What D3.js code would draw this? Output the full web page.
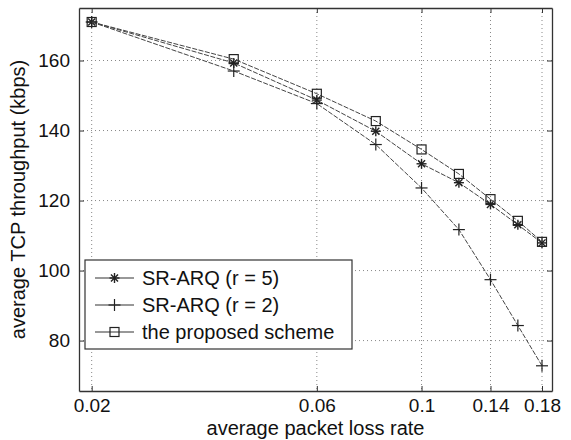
<!DOCTYPE html>
<html>
<head>
<meta charset="utf-8">
<script src="https://cdn.jsdelivr.net/npm/d3@7"></script>
<style>
  body { margin: 0; background: #fff; }
  text { font-family: "Liberation Sans", Arial, sans-serif; fill: #111; }
</style>
</head>
<body>
<script>
// data
var lossRate = [0.02, 0.04, 0.06, 0.08, 0.1, 0.12, 0.14, 0.16, 0.18];
var srArqR5 = [171, 159.3, 148.7, 139.8, 130.5, 125.1, 118.9, 113.1, 107.9];
var srArqR2 = [171, 157, 147.7, 136, 123.6, 111.7, 97.4, 84.3, 72.8];
var proposed = [171, 160.4, 150.5, 142.7, 134.6, 127.6, 120.4, 114.2, 108.2];
var xTicks = [0.02, 0.06, 0.1, 0.14, 0.18];
var yTicks = [80, 100, 120, 140, 160];
var seriesNames = ['SR-ARQ (r = 5)', 'SR-ARQ (r = 2)', 'the proposed scheme'];

var W = 571, H = 440;
var pLeft = 79, pTop = 8, pRight = 552, pBottom = 391;

var svg = d3.select('body').append('svg')
            .attr('width', W)
            .attr('height', H);

var x = d3.scaleLog().domain([0.0188, 0.189]).range([pLeft, pRight]);
var y = d3.scaleLinear().domain([65.6, 175]).range([pBottom, pTop]);

// grid
svg.selectAll('.gx').data(xTicks).enter().append('line')
   .attr('x1', d => x(d)).attr('x2', d => x(d))
   .attr('y1', pTop).attr('y2', pBottom)
   .style('stroke', '#888').style('stroke-width', 1)
   .style('stroke-dasharray', '1,3');
svg.selectAll('.gy').data(yTicks).enter().append('line')
   .attr('x1', pLeft).attr('x2', pRight)
   .attr('y1', d => y(d)).attr('y2', d => y(d))
   .style('stroke', '#888').style('stroke-width', 1)
   .style('stroke-dasharray', '1,3');

// axes, ticks inward like matlab
var fmt = d => String(d);
svg.append('g').attr('transform', 'translate(0,' + pBottom + ')')
   .call(d3.axisBottom(x).tickValues(xTicks).tickFormat(fmt).tickSizeInner(-5).tickSizeOuter(0).tickPadding(8));
svg.append('g').attr('transform', 'translate(0,' + pTop + ')')
   .call(d3.axisTop(x).tickValues(xTicks).tickFormat('').tickSizeInner(-5).tickSizeOuter(0));
svg.append('g').attr('transform', 'translate(' + pLeft + ',0)')
   .call(d3.axisLeft(y).tickValues(yTicks).tickFormat(fmt).tickSizeInner(-5).tickSizeOuter(0).tickPadding(9));
svg.append('g').attr('transform', 'translate(' + pRight + ',0)')
   .call(d3.axisRight(y).tickValues(yTicks).tickFormat('').tickSizeInner(-5).tickSizeOuter(0));

svg.selectAll('.domain').style('stroke', '#333').style('stroke-width', 1.3);
svg.selectAll('.tick line').style('stroke', '#333');
svg.selectAll('.tick text').style('font-size', '19px').style('fill', '#111')
   .style('font-family', '"Liberation Sans", Arial, sans-serif');

// axis titles
svg.append('text')
   .attr('x', (pLeft + pRight) / 2).attr('y', 435)
   .attr('text-anchor', 'middle')
   .style('font-size', '20px')
   .text('average packet loss rate');
svg.append('text')
   .attr('transform', 'translate(25,' + ((pTop + pBottom) / 2) + ') rotate(-90)')
   .attr('text-anchor', 'middle')
   .style('font-size', '20px')
   .text('average TCP throughput (kbps)');

// markers
function drawMarker(g, kind, cx, cy) {
  if (kind === 'star') {
    var r = 5;
    [0, 45, 90, 135].forEach(function(a) {
      var rad = a * Math.PI / 180;
      g.append('line')
       .attr('x1', cx - r * Math.cos(rad)).attr('y1', cy - r * Math.sin(rad))
       .attr('x2', cx + r * Math.cos(rad)).attr('y2', cy + r * Math.sin(rad))
       .style('stroke', '#222').style('stroke-width', 1.4);
    });
  } else if (kind === 'plus') {
    var p = 6;
    g.append('line').attr('x1', cx - p).attr('x2', cx + p).attr('y1', cy).attr('y2', cy)
     .style('stroke', '#222').style('stroke-width', 1.2);
    g.append('line').attr('x1', cx).attr('x2', cx).attr('y1', cy - p).attr('y2', cy + p)
     .style('stroke', '#222').style('stroke-width', 1.2);
  } else {
    g.append('rect').attr('x', cx - 4.5).attr('y', cy - 4.5)
     .attr('width', 9).attr('height', 9)
     .style('fill', 'none').style('stroke', '#222').style('stroke-width', 1.2);
  }
}

var series = [
  { name: seriesNames[0], values: srArqR5, marker: 'star' },
  { name: seriesNames[1], values: srArqR2, marker: 'plus' },
  { name: seriesNames[2], values: proposed, marker: 'square' }
];

var line = d3.line().x((d, i) => x(lossRate[i])).y(d => y(d));

series.forEach(function(s) {
  svg.append('path')
     .datum(s.values)
     .attr('d', line)
     .style('fill', 'none')
     .style('stroke', '#444')
     .style('stroke-width', 1)
     .style('stroke-dasharray', '5,1.5');
  var g = svg.append('g');
  s.values.forEach(function(v, i) {
    drawMarker(g, s.marker, x(lossRate[i]), y(v));
  });
});

// legend
var lg = svg.append('g');
lg.append('rect')
  .attr('x', 85).attr('y', 260).attr('width', 267).attr('height', 89)
  .style('fill', '#fff').style('stroke', '#333').style('stroke-width', 1.2);
series.forEach(function(s, i) {
  var ly = 278 + i * 27;
  lg.append('line').attr('x1', 95).attr('x2', 134).attr('y1', ly).attr('y2', ly)
    .style('stroke', '#333').style('stroke-width', 1.1);
  drawMarker(lg, s.marker, 114.5, ly);
  lg.append('text').attr('x', 142).attr('y', ly + 7)
    .style('font-size', '20px')
    .text(s.name);
});
</script>
</body>
</html>
